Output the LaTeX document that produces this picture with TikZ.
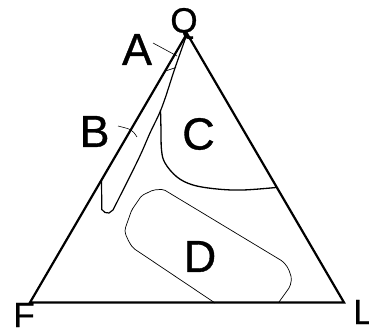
\documentclass[tikz,border=0pt]{standalone}
\usepackage{fontspec}
\setmainfont{Liberation Sans}
\newfontfamily\lblfont[FakeBold=0.8]{Liberation Sans}
\begin{document}
\begin{tikzpicture}[x=1pt,y=-1pt,
  big/.style={inner sep=0pt,anchor=base,font=\lblfont\fontsize{45}{50}\selectfont},
  small/.style={inner sep=0pt,anchor=base,font=\lblfont\fontsize{35}{40}\selectfont},
  edge/.style={line width=2.2pt,line join=miter},
  bound/.style={line width=1.2pt},
  thin/.style={line width=0.7pt},
  leader/.style={line width=0.6pt}]
\useasboundingbox (0,0) rectangle (369,328);
\coordinate (Fv) at (30,302.5);
\coordinate (Lv) at (344,302.5);
\coordinate (Qv) at (187,33.5);
% triangle
\draw[edge] (Fv) -- (Qv) -- (Lv) -- cycle;
% sliver (A/B region)
\draw[bound] (101.5,180) -- (101.8,209.5) -- (105,212.5) -- (109,213) -- (113,210)
  plot[smooth,tension=0.6] coordinates {(113,210) (138,160) (150,133) (162,107) (175,68) (187,34)};
% A/B divider
\draw[thin] (165.5,71) -- (176,67.5);
% C boundary
\draw[line width=1.3pt] plot[smooth,tension=0.6] coordinates {(160.5,110) (161,130) (161.5,150) (165,163) (177,177) (193,185) (217,189) (243,190) (276,187.5)};
% D region
\draw[thin,rounded corners=2pt] (215,303) -- (133,248) -- (129,242) -- (125,233) -- (125,229) -- (131.7,210) -- (141.7,195.5) -- (153.3,190) -- (163.3,189.3) -- (283.3,261.7) -- (288.3,268.3) -- (291.7,278.3) -- (290,286.7) -- (278.3,303);
% leaders
\draw[leader] (153,43) -- (177,56);
\draw[leader] (118,126) .. controls (132,129.5) .. (137,137);
% labels
\node[small] (Q) at (184,32.5) {Q};
\node[big] (A) at (137,65) {A};
\node[big] (B) at (94.5,147) {B};
\node[big] (C) at (198.5,149.5) {C};
\node[big] (D) at (200,272) {D};
\node[small] (F) at (24,327) {F};
\node[small] (L) at (363,324) {L};
\end{tikzpicture}
\end{document}
